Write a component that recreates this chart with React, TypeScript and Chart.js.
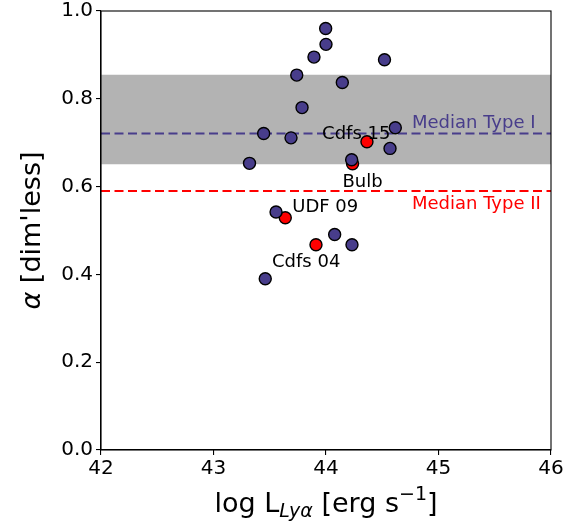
import React, { useEffect, useRef } from "react";
import { Chart, registerables } from "chart.js";

Chart.register(...registerables);

// Type I sources (log L_Lya, alpha)
const typeIX = [43.997, 44.0, 43.893, 44.52, 43.74, 44.145, 43.787, 43.446, 43.689, 44.616, 44.569, 43.32, 44.228, 43.556, 44.077, 44.231, 43.46];
const typeIY = [0.96, 0.924, 0.895, 0.889, 0.854, 0.837, 0.78, 0.721, 0.711, 0.734, 0.687, 0.653, 0.661, 0.542, 0.491, 0.4675, 0.39];
// Type II sources
const typeIIX = [44.364, 44.236, 43.638, 43.911];
const typeIIY = [0.702, 0.652, 0.529, 0.4675];

const medianTypeI = 0.721;
const medianTypeII = 0.59;
const bandLow = 0.651;
const bandHigh = 0.855;

const xMin = 42;
const xMax = 46;
const xTicks = [42, 43, 44, 45, 46];
const yTicks = [0.0, 0.2, 0.4, 0.6, 0.8, 1.0];

// annotations: text, x, y (data coords of baseline-left), colour
const annoText = ["Cdfs 15", "Bulb", "UDF 09", "Cdfs 04", "Median Type I", "Median Type II"];
const annoX = [43.965, 44.146, 43.7, 43.52, 44.764, 44.764];
const annoY = [0.708, 0.6, 0.543, 0.417, 0.734, 0.549];
const annoColor = ["#000000", "#000000", "#000000", "#000000", "#483d8b", "#ff0000"];

const BLUE = "#483d8b";
const FONT = "'DejaVu Sans', sans-serif";

export default function App() {
  const ref = useRef<HTMLCanvasElement | null>(null);
  useEffect(() => {
    if (!ref.current) return;
    const annotPlugin = {
      id: "annot",
      afterDatasetsDraw(chart: any) {
        const { ctx, scales, chartArea } = chart;
        const xs = scales.x, ys = scales.y;
        ctx.save();
        ctx.textBaseline = "alphabetic";
        ctx.textAlign = "left";
        ctx.font = `18px ${FONT}`;
        for (let i = 0; i < annoText.length; i++) {
          ctx.fillStyle = annoColor[i];
          ctx.fillText(annoText[i], xs.getPixelForValue(annoX[i]), ys.getPixelForValue(annoY[i]));
        }
        ctx.restore();
        // frame
        ctx.save();
        ctx.strokeStyle = "#000";
        ctx.lineWidth = 1.1;
        ctx.strokeRect(chartArea.left, chartArea.top, chartArea.right - chartArea.left, chartArea.bottom - chartArea.top);
        ctx.restore();
      },
      afterDraw(chart: any) {
        const { ctx, chartArea } = chart;
        // x title
        const big = 27, small = 19;
        const parts = [
          { t: "log L", f: `${big}px ${FONT}`, dy: 0 },
          { t: "Lyα", f: `italic ${small}px ${FONT}`, dy: 5 },
          { t: " [erg s", f: `${big}px ${FONT}`, dy: 0 },
          { t: "−1", f: `${small}px ${FONT}`, dy: -12 },
          { t: "]", f: `${big}px ${FONT}`, dy: 0 },
        ];
        ctx.save();
        ctx.fillStyle = "#000";
        ctx.textBaseline = "alphabetic";
        ctx.textAlign = "left";
        let total = 0;
        for (const p of parts) { ctx.font = p.f; total += ctx.measureText(p.t).width; }
        let x = (chartArea.left + chartArea.right) / 2 - total / 2;
        const base = 512;
        for (const p of parts) {
          ctx.font = p.f;
          ctx.fillText(p.t, x, base + p.dy);
          x += ctx.measureText(p.t).width;
        }
        // y title
        ctx.translate(40, (chartArea.top + chartArea.bottom) / 2);
        ctx.rotate(-Math.PI / 2);
        ctx.textBaseline = "alphabetic";
        const a = "α";
        const rest = " [dim'less]";
        ctx.font = `italic ${big}px ${FONT}`;
        const wa = ctx.measureText(a).width;
        ctx.font = `${big}px ${FONT}`;
        const wr = ctx.measureText(rest).width;
        ctx.textAlign = "left";
        const sx = -(wa + wr) / 2;
        ctx.font = `italic ${big}px ${FONT}`;
        ctx.fillText(a, sx, 0);
        ctx.font = `${big}px ${FONT}`;
        ctx.fillText(rest, sx + wa, 0);
        ctx.restore();
      },
    };

    const chart = new Chart(ref.current, {
      type: "scatter",
      data: {
        datasets: [
          {
            label: "Type I",
            data: typeIX.map((x, i) => ({ x, y: typeIY[i] })),
            backgroundColor: BLUE,
            borderColor: "#000",
            borderWidth: 1.4,
            pointRadius: 6,
            order: 0,
          },
          {
            label: "Type II",
            data: typeIIX.map((x, i) => ({ x, y: typeIIY[i] })),
            backgroundColor: "#ff0000",
            borderColor: "#000",
            borderWidth: 1.4,
            pointRadius: 6,
            order: 0,
          },
          {
            type: "line",
            label: "Median I",
            data: [{ x: xMin, y: medianTypeI }, { x: xMax, y: medianTypeI }],
            borderColor: BLUE,
            borderWidth: 2.2,
            borderDash: [9, 4.5],
            pointRadius: 0,
            showLine: true,
            order: 1,
          } as any,
          {
            type: "line",
            label: "Median II",
            data: [{ x: xMin, y: medianTypeII }, { x: xMax, y: medianTypeII }],
            borderColor: "#ff0000",
            borderWidth: 2.2,
            borderDash: [9, 4.5],
            pointRadius: 0,
            showLine: true,
            order: 1,
          } as any,
          {
            type: "line",
            label: "band high",
            data: [{ x: xMin, y: bandHigh }, { x: xMax, y: bandHigh }],
            borderWidth: 0,
            borderColor: "rgba(0,0,0,0)",
            pointRadius: 0,
            showLine: true,
            fill: false,
            order: 3,
          } as any,
          {
            type: "line",
            label: "band low",
            data: [{ x: xMin, y: bandLow }, { x: xMax, y: bandLow }],
            borderWidth: 0,
            borderColor: "rgba(0,0,0,0)",
            backgroundColor: "#b3b3b3",
            pointRadius: 0,
            showLine: true,
            fill: "-1",
            order: 2,
          } as any,
        ],
      },
      options: {
        responsive: false,
        animation: false,
        devicePixelRatio: 1,
        layout: { padding: { top: 10, right: 28, left: 0, bottom: 0 } },
        plugins: {
          legend: { display: false },
          tooltip: { enabled: false },
        },
        scales: {
          x: {
            type: "linear",
            min: xMin,
            max: xMax,
            afterBuildTicks: (s: any) => { s.ticks = xTicks.map((v) => ({ value: v })); },
            afterFit: (s: any) => { s.height = 77; },
            grid: { drawOnChartArea: false, tickLength: 5, color: "#000", lineWidth: 1.1 },
            border: { display: true, color: "#000", width: 1.1 },
            ticks: {
              color: "#000",
              font: { family: FONT, size: 20, lineHeight: 0.8 },
              padding: 6,
              maxRotation: 0,
              callback: (v: any) => String(v),
            },
          },
          y: {
            type: "linear",
            min: 0,
            max: 1,
            afterBuildTicks: (s: any) => { s.ticks = yTicks.map((v) => ({ value: v })); },
            afterFit: (s: any) => { s.width = 101; },
            grid: { drawOnChartArea: false, tickLength: 5, color: "#000", lineWidth: 1.1 },
            border: { display: true, color: "#000", width: 1.1 },
            ticks: {
              color: "#000",
              font: { family: FONT, size: 20, lineHeight: 0.8 },
              padding: 3,
              callback: (v: any) => Number(v).toFixed(1),
            },
          },
        },
      },
      plugins: [annotPlugin],
    } as any);
    return () => chart.destroy();
  }, []);
  return (
    <div style={{ position: "fixed", left: 0, top: 0, width: 579, height: 527, background: "#fff" }}>
      <canvas ref={ref} width={579} height={527} style={{ width: 579, height: 527 }} />
    </div>
  );
}
